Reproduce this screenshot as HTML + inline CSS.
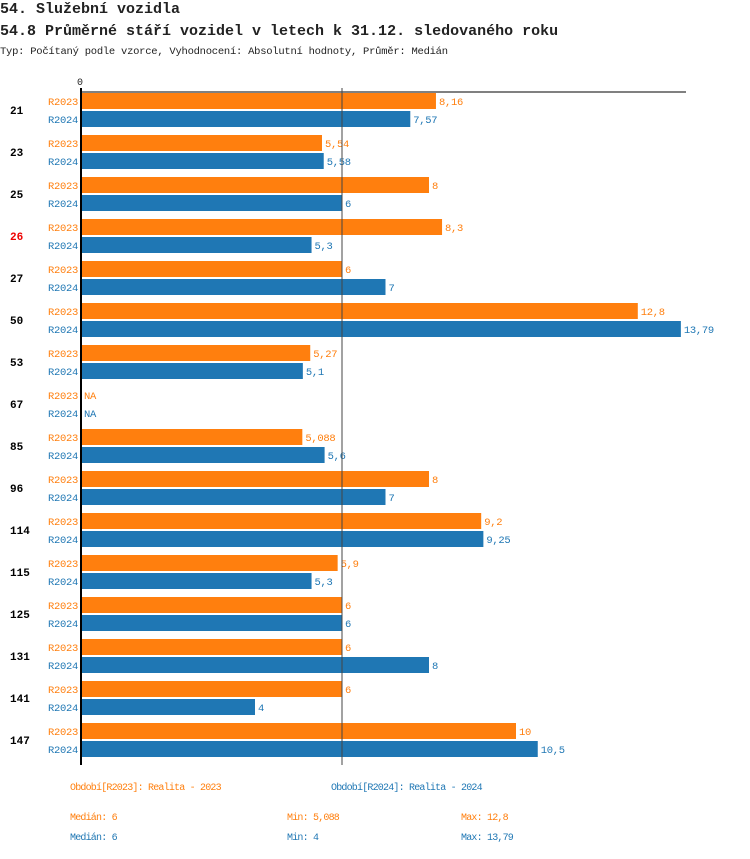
<!DOCTYPE html>
<html><head><meta charset="utf-8"><style>
body{margin:0;background:#fff;font-family:"Liberation Mono",monospace;}
svg text{font-family:"Liberation Mono",monospace;}
</style></head><body>
<svg id="c" width="750" height="854" xmlns="http://www.w3.org/2000/svg">
<text x="0" y="13" font-size="15" font-weight="bold" fill="#222">54. Služební vozidla</text>
<text x="0" y="35" font-size="15" font-weight="bold" fill="#222">54.8 Průměrné stáří vozidel v letech k 31.12. sledovaného roku</text>
<text x="0" y="54" font-size="10.5" letter-spacing="-0.25" fill="#222">Typ: Počítaný podle vzorce, Vyhodnocení: Absolutní hodnoty, Průměr: Medián</text>
<text x="77" y="85" font-size="10" fill="#222">0</text>
<g id="bars"></g>
<line x1="81" y1="92" x2="686" y2="92" stroke="#000" stroke-width="1"/>
<line x1="81" y1="88" x2="81" y2="765" stroke="#000" stroke-width="2"/>
<line id="med" x1="342" y1="88" x2="342" y2="765" stroke="#444" stroke-width="1"/>
<g font-size="10" letter-spacing="-0.8">
<text x="70" y="790" fill="#ff7f0e">Období[R2023]: Realita - 2023</text>
<text x="331" y="790" fill="#1f77b4">Období[R2024]: Realita - 2024</text>
<text x="70" y="820" fill="#ff7f0e">Medián: 6</text>
<text x="287" y="820" fill="#ff7f0e">Min: 5,088</text>
<text x="461" y="820" fill="#ff7f0e">Max: 12,8</text>
<text x="70" y="840" fill="#1f77b4">Medián: 6</text>
<text x="287" y="840" fill="#1f77b4">Min: 4</text>
<text x="461" y="840" fill="#1f77b4">Max: 13,79</text>
</g>
</svg>
<script>
const categories=["21","23","25","26","27","50","53","67","85","96","114","115","125","131","141","147"];
const highlighted=["26"];
const r2023=[8.16,5.54,8,8.3,6,12.8,5.27,null,5.088,8,9.2,5.9,6,6,6,10];
const r2024=[7.57,5.58,6,5.3,7,13.79,5.1,null,5.6,7,9.25,5.3,6,8,4,10.5];
const seriesNames=["R2023","R2024"];
const medianValue=6;
const X0=81,SCALE=43.5,TOP=93,PITCH=42,BH=16;
const xs=v=>X0+v*SCALE;
const ns="http://www.w3.org/2000/svg";
const g=document.getElementById('bars');
const med=document.getElementById('med');
med.setAttribute('x1',xs(medianValue));med.setAttribute('x2',xs(medianValue));
function mk(t,a,txt){const e=document.createElementNS(ns,t);for(const k in a)e.setAttribute(k,a[k]);if(txt!==undefined)e.textContent=txt;g.appendChild(e);return e;}
const fmt=v=>String(v).replace('.',',');
categories.forEach((c,i)=>{
  const y=TOP+i*PITCH;
  const cl=mk('text',{x:10,y:y+21,'font-size':11,'font-weight':'bold',fill:highlighted.includes(c)?'#e00':'#000'},c);
  
  
  [[r2023,'#ff7f0e'],[r2024,'#1f77b4']].forEach(([arr,col],s)=>{
    const by=y+s*(BH+2);
    const sl=mk('text',{x:78,y:by+12,'font-size':10.5,'letter-spacing':-0.3,fill:col,'text-anchor':'end'},seriesNames[s]);
    
    
    const v=arr[i];
    if(v===null){
      const na=mk('text',{x:84,y:by+12,'font-size':10.5,'letter-spacing':-0.3,fill:col},'NA');
      
      
      return;
    }
    const r=mk('rect',{x:X0,y:by,width:xs(v)-X0,height:BH,fill:col});
    
    
    const t=mk('text',{x:xs(v)+3,y:by+12,'font-size':10.5,'letter-spacing':-0.3,fill:col},fmt(v));
    
    
  });
});
</script>
</body></html>
